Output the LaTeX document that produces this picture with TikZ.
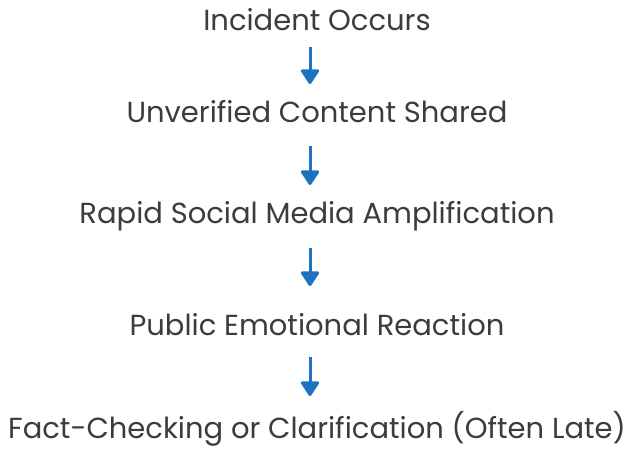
\documentclass[tikz,border=0pt]{standalone}
\usepackage{fontspec}
\setmainfont{Poppins}
\usetikzlibrary{arrows.meta}
\definecolor{flowblue}{HTML}{1F72BF}
\definecolor{stagegray}{HTML}{3C3C3C}
\tikzset{stage/.style={anchor=base, inner sep=0pt, text=stagegray,
    font=\fontsize{29}{31}\selectfont}}
\tikzset{flow/.style={draw=flowblue, line width=3pt,
    -{Triangle[width=20pt,length=16pt,round]}}}

\begin{document}
\begin{tikzpicture}[x=1pt,y=1pt]
    \useasboundingbox (0,0) rectangle (634,-448);
    % stages, placed on their baselines
    \node[stage] (incident) at (317,-30) {Incident Occurs};
    \node[stage] (shared) at (317,-122) {Unverified Content Shared};
    \node[stage] (amplify) at (317,-223) {Rapid Social Media Amplification};
    \node[stage] (reaction) at (317,-335) {Public Emotional Reaction};
    \node[stage] (factcheck) at (317,-438) {Fact-Checking or Clarification (Often Late)};

    % arrow ends between the stages
    \coordinate (a1) at (310,-47);  \coordinate (b1) at (310,-84);
    \coordinate (a2) at (310,-146); \coordinate (b2) at (310,-185);
    \coordinate (a3) at (310,-248); \coordinate (b3) at (310,-286);
    \coordinate (a4) at (310,-357); \coordinate (b4) at (310,-396);
    \foreach \i in {1,...,4}
        \draw[flow] (a\i) -- (b\i);
\end{tikzpicture}
\end{document}
